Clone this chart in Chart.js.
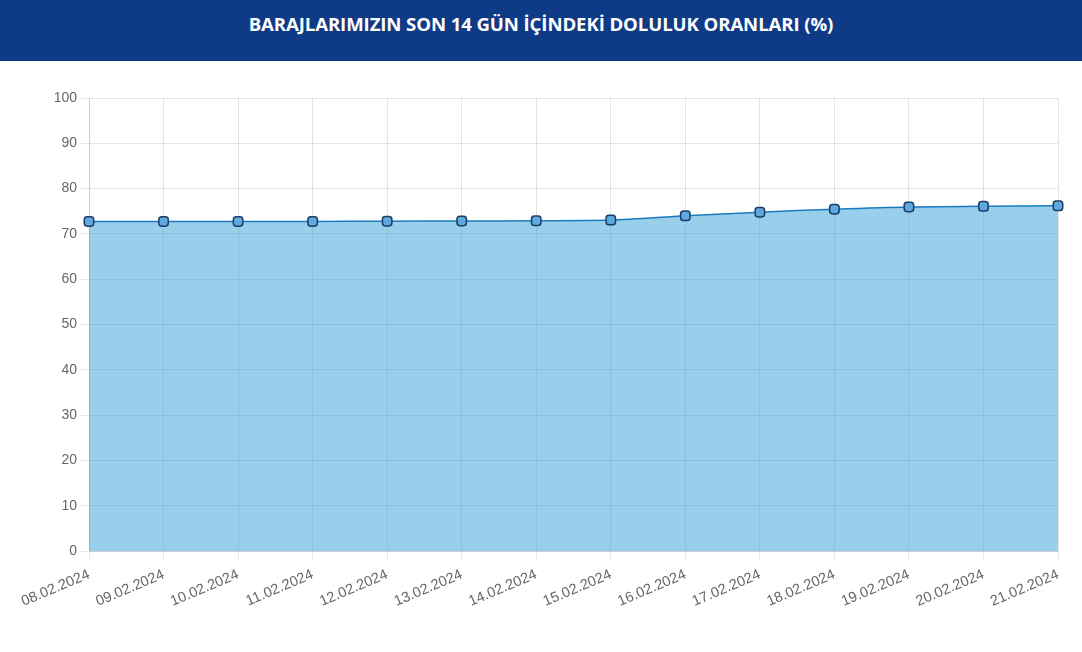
<!DOCTYPE html>
<html><head><meta charset="utf-8">
<script src="https://cdn.jsdelivr.net/npm/chart.js@4/dist/chart.umd.min.js"></script>
<style>
html,body{margin:0;padding:0;background:#fff;width:1082px;height:652px;overflow:hidden;}
#hdr{position:absolute;left:0;top:0;width:1082px;height:61px;background:#0f3a85;color:#fff;font-family:"Open Sans",sans-serif;font-weight:700;font-size:18.6px;text-align:center;line-height:48px;letter-spacing:-0.1px;}
#wrap{position:absolute;left:0;top:61px;width:1082px;height:591px;}
</style></head><body>
<div id="hdr">BARAJLARIMIZIN SON 14 GÜN İÇİNDEKİ DOLULUK ORANLARI (%)</div>
<div id="wrap"><canvas id="c" width="1082" height="591"></canvas></div>
<script>
const dates = ["08.02.2024","09.02.2024","10.02.2024","11.02.2024","12.02.2024","13.02.2024","14.02.2024","15.02.2024","16.02.2024","17.02.2024","18.02.2024","19.02.2024","20.02.2024","21.02.2024"];
const fillRates = [72.75,72.75,72.75,72.75,72.8,72.85,72.9,73.05,74.0,74.8,75.45,75.95,76.1,76.2];
const yTicks = [0,10,20,30,40,50,60,70,80,90,100];

new Chart(document.getElementById('c'), {
  type: 'line',
  data: { labels: dates, datasets: [{
    data: fillRates,
    fill: 'origin',
    backgroundColor: 'rgba(53,159,215,0.5)',
    borderColor: '#1a7cc0',
    borderWidth: 1.5,
    tension: 0.3,
    pointStyle: 'rectRounded',
    pointRadius: 5.5,
    pointBackgroundColor: '#5fa9de',
    pointBorderColor: '#1d3c68',
    pointBorderWidth: 1.5
  }]},
  options: {
    responsive: false, animation: false,
    layout: { padding: { top: 37, left: 0, right: 24, bottom: 0 } },
    plugins: { legend: { display: false }, tooltip: { enabled: false } },
    scales: {
      x: {
        grid: { color: 'rgba(0,0,0,0.1)', tickLength: 8 },
        ticks: { color: '#666', font: { family: 'Liberation Sans', size: 14.5 }, minRotation: 23, maxRotation: 23, autoSkip: false, padding: 7 },
        afterFit: s => { s.height = 101; }
      },
      y: {
        min: 0, max: 100,
        afterBuildTicks: s => { s.ticks = yTicks.map(v => ({ value: v })); },
        grid: { color: 'rgba(0,0,0,0.1)', tickLength: 8 },
        ticks: { color: '#666', font: { family: 'Liberation Sans', size: 14 }, padding: 4 },
        afterFit: s => { s.width = 89; }
      }
    }
  }
});
</script></body></html>
